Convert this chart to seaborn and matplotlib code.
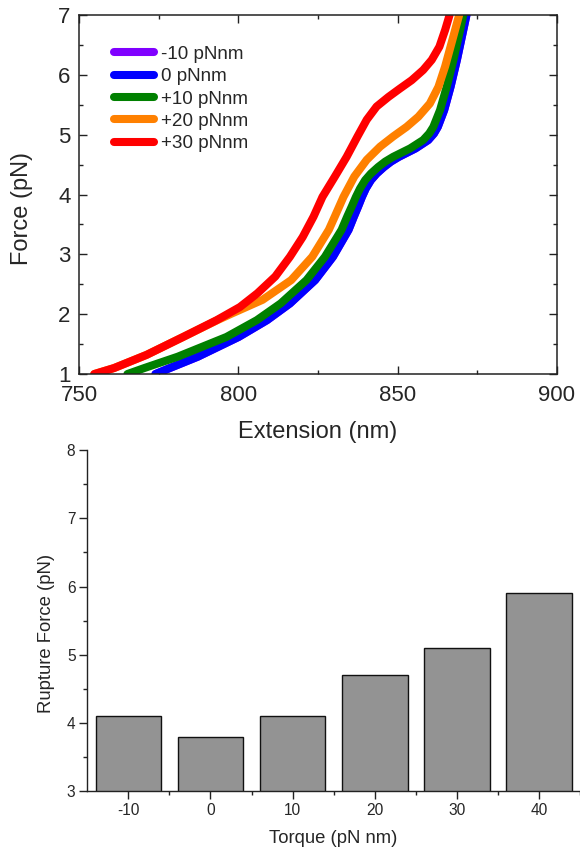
import matplotlib
matplotlib.use("Agg")
import matplotlib.pyplot as plt
import numpy as np
import pandas as pd
import seaborn as sns
from matplotlib.ticker import MultipleLocator, FixedLocator

# ---- force-extension curves under applied torque ----
series_labels = ["-10 pNnm", "0 pNnm", "+10 pNnm", "+20 pNnm", "+30 pNnm"]
series_colors = ["#8000ff", "#0000ff", "#008000", "#ff8000", "#ff0000"]

force_m10 = [1.00, 1.10, 1.29, 1.62, 1.90, 2.18, 2.57, 2.96, 3.41, 3.635, 3.80, 3.96, 4.10, 4.24,
             4.35, 4.46, 4.55, 4.63, 4.77, 4.91, 5.02, 5.13, 5.41, 5.80, 6.25, 6.75, 7.00]
ext_m10 = [774.0, 778.5, 787.3, 800.1, 809.0, 816.2, 824.1, 829.7, 834.6, 836.3, 837.6, 838.8, 840.0, 841.6,
           843.4, 845.7, 847.9, 850.4, 855.6, 859.6, 861.4, 862.6, 864.6, 866.6, 868.6, 870.6, 871.6]

force_0 = [1.00, 1.10, 1.29, 1.62, 1.90, 2.18, 2.57, 2.96, 3.41, 3.635, 3.80, 3.96, 4.10, 4.24,
           4.35, 4.46, 4.55, 4.63, 4.77, 4.91, 5.02, 5.13, 5.41, 5.80, 6.25, 6.75, 7.00]
ext_0 = [774.0, 778.5, 787.3, 800.1, 809.0, 816.2, 824.1, 829.7, 834.6, 836.3, 837.6, 838.8, 840.0, 841.6,
         843.4, 845.7, 847.9, 850.4, 855.6, 859.6, 861.4, 862.6, 864.6, 866.6, 868.6, 870.6, 871.6]

force_p10 = [1.00, 1.10, 1.29, 1.62, 1.90, 2.18, 2.57, 2.96, 3.41, 3.635, 3.80, 3.96, 4.10, 4.24,
             4.35, 4.46, 4.55, 4.63, 4.77, 4.91, 5.02, 5.13, 5.41, 5.80, 6.25, 6.75, 7.00]
ext_p10 = [765.2, 770.5, 781.0, 796.3, 805.8, 813.3, 821.4, 827.2, 832.4, 834.2, 835.6, 836.9, 838.2, 839.8,
           841.6, 843.9, 846.1, 848.6, 853.9, 858.0, 859.9, 861.2, 863.3, 865.4, 867.5, 869.6, 870.6]

force_p20 = [1.00, 1.10, 1.32, 1.62, 1.90, 2.01, 2.24, 2.57, 2.96, 3.41, 3.635, 3.96, 4.30,
             4.58, 4.80, 4.97, 5.13, 5.30, 5.52, 5.80, 6.14, 6.53, 7.00]
ext_p20 = [754.8, 761.0, 771.2, 782.7, 793.4, 797.9, 807.6, 816.6, 823.2, 828.4, 830.3, 833.0, 836.4,
           840.3, 844.5, 848.6, 852.8, 856.5, 860.1, 862.8, 864.9, 866.9, 869.3]

force_p30 = [1.00, 1.10, 1.32, 1.62, 1.90, 2.12, 2.35, 2.63, 2.96, 3.29, 3.63, 3.96, 4.30,
             4.63, 4.97, 5.25, 5.47, 5.63, 5.77, 5.91, 6.08, 6.25, 6.47, 6.75, 7.00]
ext_p30 = [754.8, 761.0, 771.2, 782.7, 793.2, 800.5, 806.0, 811.6, 816.2, 820.2, 823.6, 826.4, 830.3,
           834.0, 837.4, 840.3, 843.4, 847.1, 850.7, 854.4, 858.0, 860.7, 863.1, 864.9, 866.3]

curve_forces = [force_m10, force_0, force_p10, force_p20, force_p30]
curve_exts = [ext_m10, ext_0, ext_p10, ext_p20, ext_p30]

# ---- rupture force vs torque ----
bar_torque = ["-10", "0", "10", "20", "30", "40"]
rupture_force = [4.1, 3.8, 4.1, 4.7, 5.1, 5.9]

sns.set_style("ticks")
plt.rcParams["font.family"] = ["Liberation Sans", "DejaVu Sans"]

fig = plt.figure(figsize=(5.8, 8.52), dpi=100)

# ---------------- top panel ----------------
ax1 = fig.add_axes([0.1362, 0.561, 0.8241, 0.4214])
for lab, col, fx, ex in zip(series_labels, series_colors, curve_forces, curve_exts):
    df = pd.DataFrame({"Extension": ex, "Force": fx})
    sns.lineplot(data=df, x="Extension", y="Force", sort=False, estimator=None,
                 color=col, linewidth=5.8, solid_capstyle="round",
                 solid_joinstyle="round", label=lab, ax=ax1)

ax1.set_xlim(750, 900)
ax1.set_ylim(1, 7)
ax1.xaxis.set_major_locator(MultipleLocator(50))
ax1.xaxis.set_minor_locator(MultipleLocator(25))
ax1.yaxis.set_major_locator(MultipleLocator(1))
ax1.yaxis.set_minor_locator(MultipleLocator(0.5))
ax1.tick_params(which="both", direction="in", top=True, right=True,
                width=1.0, color="#222222")
ax1.tick_params(which="major", length=5.5, labelsize=16, pad=6)
ax1.tick_params(axis="x", which="major", pad=8)
ax1.tick_params(which="minor", length=3)
for sp in ax1.spines.values():
    sp.set_linewidth(1.1)
    sp.set_color("#222222")

ax1.set_xlabel("Extension (nm)", fontsize=17, va="center")
ax1.set_ylabel("Force (pN)", fontsize=17, va="center")
ax1.xaxis.set_label_coords(0.5, -0.1616)
ax1.yaxis.set_label_coords(-0.12, 0.46)

leg = ax1.legend(loc="upper left", bbox_to_anchor=(0.073, 0.914),
                 frameon=False, fontsize=13.6, handlelength=2.1,
                 handletextpad=0.42, labelspacing=0.27,
                 borderpad=0, borderaxespad=0)
for h in leg.get_lines():
    h.set_solid_capstyle("round")
    h.set_linewidth(5.8)

# ---------------- bottom panel ----------------
ax2 = fig.add_axes([0.1505, 0.0712, 0.8495, 0.4006])
bar_df = pd.DataFrame({"Torque": bar_torque, "Rupture": rupture_force})
sns.barplot(data=bar_df, x="Torque", y="Rupture", order=bar_torque,
            color="#939393", saturation=1, edgecolor="#111111",
            linewidth=1.0, width=0.8, ax=ax2)

ax2.set_xlim(-0.5, 5.5)
ax2.set_ylim(3, 8)
ax2.yaxis.set_major_locator(MultipleLocator(1))
ax2.yaxis.set_minor_locator(MultipleLocator(0.5))
ax2.xaxis.set_minor_locator(FixedLocator(np.arange(0.5, 6.0, 1.0)))
ax2.tick_params(which="both", direction="out", width=1.0, color="#222222")
ax2.tick_params(which="major", length=6, labelsize=11.2, pad=2.5)
ax2.tick_params(which="minor", length=3)
sns.despine(ax=ax2)
for sp in ("left", "bottom"):
    ax2.spines[sp].set_linewidth(1.0)
    ax2.spines[sp].set_color("#222222")

ax2.set_xlabel("Torque (pN nm)", fontsize=13.3, va="center")
ax2.set_ylabel("Rupture Force (pN)", fontsize=13.3, va="center")
ax2.xaxis.set_label_coords(0.5, -0.1383)
ax2.yaxis.set_label_coords(-0.0824, 0.4638)

fig.savefig("out.png", dpi=100)
